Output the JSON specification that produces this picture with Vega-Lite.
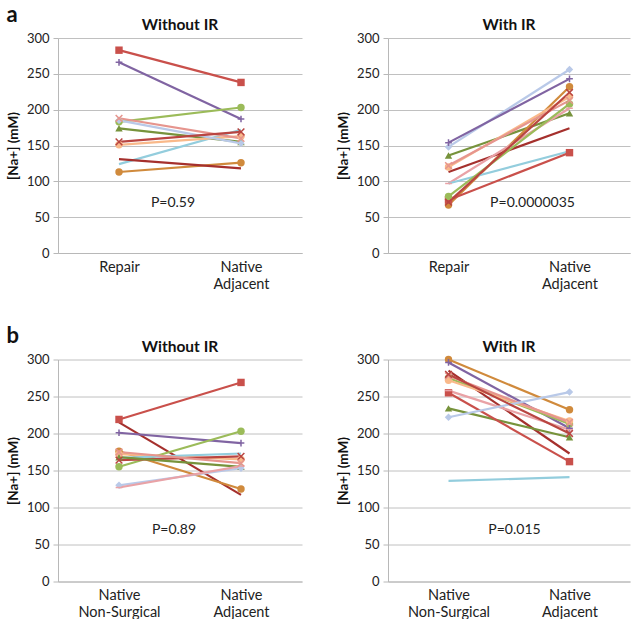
{
  "$schema": "https://vega.github.io/schema/vega-lite/v6.json",
  "padding": {"left": 6, "top": 3, "right": 4, "bottom": 0},
  "config": {
    "font": "Lato",
    "view": {"stroke": null},
    "title": {"fontSize": 15.5, "fontWeight": "bold", "color": "#111", "offset": -1.5},
    "axis": {"labelFont": "Lato", "titleFont": "Lato", "labelFontSize": 13, "labelColor": "#222", "titleColor": "#111", "gridColor": "#C0C0C0", "domainColor": "#B8B8B8", "tickColor": "#B8B8B8"},
    "axisX": {"labelFontSize": 14.5},
    "concat": {"spacing": 34}
  },
  "datasets": {
    "a1": [
      {"series": "S1", "cond": "Repair", "na": 283}, {"series": "S1", "cond": "Native Adjacent", "na": 238},
      {"series": "S2", "cond": "Repair", "na": 266}, {"series": "S2", "cond": "Native Adjacent", "na": 187},
      {"series": "S3", "cond": "Repair", "na": 183}, {"series": "S3", "cond": "Native Adjacent", "na": 203},
      {"series": "S4", "cond": "Repair", "na": 174}, {"series": "S4", "cond": "Native Adjacent", "na": 155},
      {"series": "S5", "cond": "Repair", "na": 124}, {"series": "S5", "cond": "Native Adjacent", "na": 172},
      {"series": "S6", "cond": "Repair", "na": 113}, {"series": "S6", "cond": "Native Adjacent", "na": 126},
      {"series": "S7", "cond": "Repair", "na": 151}, {"series": "S7", "cond": "Native Adjacent", "na": 163},
      {"series": "S8", "cond": "Repair", "na": 188}, {"series": "S8", "cond": "Native Adjacent", "na": 160},
      {"series": "S9", "cond": "Repair", "na": 131}, {"series": "S9", "cond": "Native Adjacent", "na": 118},
      {"series": "S10", "cond": "Repair", "na": 185}, {"series": "S10", "cond": "Native Adjacent", "na": 153},
      {"series": "S12", "cond": "Repair", "na": 155}, {"series": "S12", "cond": "Native Adjacent", "na": 169}
    ],
    "a2": [
      {"series": "S10", "cond": "Repair", "na": 148}, {"series": "S10", "cond": "Native Adjacent", "na": 256},
      {"series": "S2", "cond": "Repair", "na": 154}, {"series": "S2", "cond": "Native Adjacent", "na": 243},
      {"series": "S4", "cond": "Repair", "na": 136}, {"series": "S4", "cond": "Native Adjacent", "na": 195},
      {"series": "S6", "cond": "Repair", "na": 67}, {"series": "S6", "cond": "Native Adjacent", "na": 232},
      {"series": "S7", "cond": "Repair", "na": 120}, {"series": "S7", "cond": "Native Adjacent", "na": 218},
      {"series": "S8", "cond": "Repair", "na": 122}, {"series": "S8", "cond": "Native Adjacent", "na": 213},
      {"series": "S9", "cond": "Repair", "na": 113}, {"series": "S9", "cond": "Native Adjacent", "na": 174},
      {"series": "S11", "cond": "Repair", "na": 97}, {"series": "S11", "cond": "Native Adjacent", "na": 202},
      {"series": "S5", "cond": "Repair", "na": 97}, {"series": "S5", "cond": "Native Adjacent", "na": 142},
      {"series": "S1", "cond": "Repair", "na": 74}, {"series": "S1", "cond": "Native Adjacent", "na": 140},
      {"series": "S3", "cond": "Repair", "na": 79}, {"series": "S3", "cond": "Native Adjacent", "na": 208},
      {"series": "S12", "cond": "Repair", "na": 71}, {"series": "S12", "cond": "Native Adjacent", "na": 224}
    ],
    "b1": [
      {"series": "S1", "cond": "Native Non-Surgical", "na": 219}, {"series": "S1", "cond": "Native Adjacent", "na": 269},
      {"series": "S9", "cond": "Native Non-Surgical", "na": 215}, {"series": "S9", "cond": "Native Adjacent", "na": 117},
      {"series": "S2", "cond": "Native Non-Surgical", "na": 201}, {"series": "S2", "cond": "Native Adjacent", "na": 187},
      {"series": "S3", "cond": "Native Non-Surgical", "na": 155}, {"series": "S3", "cond": "Native Adjacent", "na": 203},
      {"series": "S6", "cond": "Native Non-Surgical", "na": 176}, {"series": "S6", "cond": "Native Adjacent", "na": 125},
      {"series": "S7", "cond": "Native Non-Surgical", "na": 172}, {"series": "S7", "cond": "Native Adjacent", "na": 165},
      {"series": "S5", "cond": "Native Non-Surgical", "na": 167}, {"series": "S5", "cond": "Native Adjacent", "na": 173},
      {"series": "S12", "cond": "Native Non-Surgical", "na": 164}, {"series": "S12", "cond": "Native Adjacent", "na": 169},
      {"series": "S4", "cond": "Native Non-Surgical", "na": 168}, {"series": "S4", "cond": "Native Adjacent", "na": 155},
      {"series": "S10", "cond": "Native Non-Surgical", "na": 130}, {"series": "S10", "cond": "Native Adjacent", "na": 153},
      {"series": "S11", "cond": "Native Non-Surgical", "na": 127}, {"series": "S11", "cond": "Native Adjacent", "na": 156},
      {"series": "S8", "cond": "Native Non-Surgical", "na": 175}, {"series": "S8", "cond": "Native Adjacent", "na": 160}
    ],
    "b2": [
      {"series": "S6", "cond": "Native Non-Surgical", "na": 300}, {"series": "S6", "cond": "Native Adjacent", "na": 232},
      {"series": "S2", "cond": "Native Non-Surgical", "na": 296}, {"series": "S2", "cond": "Native Adjacent", "na": 207},
      {"series": "S9", "cond": "Native Non-Surgical", "na": 285}, {"series": "S9", "cond": "Native Adjacent", "na": 173},
      {"series": "S4", "cond": "Native Non-Surgical", "na": 234}, {"series": "S4", "cond": "Native Adjacent", "na": 195},
      {"series": "S3", "cond": "Native Non-Surgical", "na": 275}, {"series": "S3", "cond": "Native Adjacent", "na": 213},
      {"series": "S7", "cond": "Native Non-Surgical", "na": 272}, {"series": "S7", "cond": "Native Adjacent", "na": 217},
      {"series": "S8", "cond": "Native Non-Surgical", "na": 278}, {"series": "S8", "cond": "Native Adjacent", "na": 215},
      {"series": "S1", "cond": "Native Non-Surgical", "na": 255}, {"series": "S1", "cond": "Native Adjacent", "na": 162},
      {"series": "S11", "cond": "Native Non-Surgical", "na": 258}, {"series": "S11", "cond": "Native Adjacent", "na": 205},
      {"series": "S10", "cond": "Native Non-Surgical", "na": 222}, {"series": "S10", "cond": "Native Adjacent", "na": 256},
      {"series": "S5", "cond": "Native Non-Surgical", "na": 136}, {"series": "S5", "cond": "Native Adjacent", "na": 141},
      {"series": "S12", "cond": "Native Non-Surgical", "na": 280}, {"series": "S12", "cond": "Native Adjacent", "na": 200}
    ]
  },
  "spacing": 33.5,
  "vconcat": [
    {
      "title": {"text": "a", "anchor": "start", "fontSize": 22, "fontWeight": "bold", "offset": -8.5, "color": "#111"},
      "hconcat": [
        {
          "width": 244, "height": 215,
          "title": "Without IR",
          "data": {"name": "a1"},
          "encoding": {
            "x": {"field": "cond", "type": "ordinal", "sort": ["Repair", "Native Adjacent"], "scale": {"type": "point", "padding": 0.5}, "axis": {"title": null, "labelAngle": 0, "ticks": false, "labelPadding": 7, "labelExpr": "split(datum.label, ' ')", "labelLineHeight": 17}},
            "y": {"field": "na", "type": "quantitative", "scale": {"domain": [0, 300]}, "axis": {"title": "[Na+] (mM)", "titleFontSize": 13.5, "titleFontWeight": "bold", "values": [0, 50, 100, 150, 200, 250, 300], "tickSize": 5, "labelPadding": 4, "titlePadding": 6}},
            "color": {"field": "series", "type": "nominal", "legend": null, "scale": {"domain": ["S1","S2","S3","S4","S5","S6","S7","S8","S9","S10","S11","S12"], "range": ["#C9504B","#8064A2","#9BBB59","#77933C","#93CDDD","#D08A3C","#F9B98A","#E6958E","#A5302D","#B9C9E8","#E9A2A6","#B94541"]}}
          },
          "layer": [
            {"mark": {"type": "line", "strokeWidth": 2.2}},
            {"transform": [{"filter": {"field": "series", "oneOf": ["S1","S3","S4","S6","S7","S10"]}}], "mark": {"type": "point", "filled": true, "size": 55, "opacity": 1}, "encoding": {"shape": {"field": "series", "type": "nominal", "legend": null, "scale": {"domain": ["S1","S2","S3","S4","S5","S6","S7","S8","S9","S10","S11","S12"], "range": ["square","M-1,0H1M0,-1V1","circle","triangle-up","circle","circle","circle","M-1,-1L1,1M-1,1L1,-1","circle","diamond","M-1,0H1","M-1,-1L1,1M-1,1L1,-1"]}}}},
            {"transform": [{"filter": {"field": "series", "oneOf": ["S2","S8","S11","S12"]}}], "mark": {"type": "point", "filled": false, "size": 45, "strokeWidth": 1.5, "opacity": 1}, "encoding": {"shape": {"field": "series", "type": "nominal", "legend": null}}},
            {"transform": [{"filter": "datum.series == 'S1' && datum.cond == 'Repair'"}], "mark": {"type": "text", "fontSize": 14, "dx": 54, "font": "Lato", "color": "#222"}, "encoding": {"x": {"datum": "Repair"}, "y": {"datum": 70}, "text": {"value": "P=0.59"}, "color": {"value": "#222"}}}
          ]
        },
        {
          "width": 242, "height": 215,
          "title": "With IR",
          "data": {"name": "a2"},
          "encoding": {
            "x": {"field": "cond", "type": "ordinal", "sort": ["Repair", "Native Adjacent"], "scale": {"type": "point", "padding": 0.5}, "axis": {"title": null, "labelAngle": 0, "ticks": false, "labelPadding": 7, "labelExpr": "split(datum.label, ' ')", "labelLineHeight": 17}},
            "y": {"field": "na", "type": "quantitative", "scale": {"domain": [0, 300]}, "axis": {"title": "[Na+] (mM)", "titleFontSize": 13.5, "titleFontWeight": "bold", "values": [0, 50, 100, 150, 200, 250, 300], "tickSize": 5, "labelPadding": 4, "titlePadding": 6}},
            "color": {"field": "series", "type": "nominal", "legend": null, "scale": {"domain": ["S1","S2","S3","S4","S5","S6","S7","S8","S9","S10","S11","S12"], "range": ["#C9504B","#8064A2","#9BBB59","#77933C","#93CDDD","#D08A3C","#F9B98A","#E6958E","#A5302D","#B9C9E8","#E9A2A6","#B94541"]}}
          },
          "layer": [
            {"mark": {"type": "line", "strokeWidth": 2.2}},
            {"transform": [{"filter": {"field": "series", "oneOf": ["S1","S3","S4","S6","S7","S10"]}}], "mark": {"type": "point", "filled": true, "size": 55, "opacity": 1}, "encoding": {"shape": {"field": "series", "type": "nominal", "legend": null, "scale": {"domain": ["S1","S2","S3","S4","S5","S6","S7","S8","S9","S10","S11","S12"], "range": ["square","M-1,0H1M0,-1V1","circle","triangle-up","circle","circle","circle","M-1,-1L1,1M-1,1L1,-1","circle","diamond","M-1,0H1","M-1,-1L1,1M-1,1L1,-1"]}}}},
            {"transform": [{"filter": {"field": "series", "oneOf": ["S2","S8","S11","S12"]}}], "mark": {"type": "point", "filled": false, "size": 45, "strokeWidth": 1.5, "opacity": 1}, "encoding": {"shape": {"field": "series", "type": "nominal", "legend": null}}},
            {"transform": [{"filter": "datum.series == 'S1' && datum.cond == 'Repair'"}], "mark": {"type": "text", "fontSize": 14, "dx": 84, "font": "Lato", "color": "#222"}, "encoding": {"x": {"datum": "Repair"}, "y": {"datum": 70}, "text": {"value": "P=0.0000035"}, "color": {"value": "#222"}}}
          ]
        }
      ]
    },
    {
      "title": {"text": "b", "anchor": "start", "fontSize": 22, "fontWeight": "bold", "offset": -8.5, "color": "#111"},
      "hconcat": [
        {
          "width": 244, "height": 222,
          "title": "Without IR",
          "data": {"name": "b1"},
          "encoding": {
            "x": {"field": "cond", "type": "ordinal", "sort": ["Native Non-Surgical", "Native Adjacent"], "scale": {"type": "point", "padding": 0.5}, "axis": {"title": null, "labelAngle": 0, "ticks": false, "labelPadding": 7, "labelExpr": "split(datum.label, ' ')", "labelLineHeight": 17}},
            "y": {"field": "na", "type": "quantitative", "scale": {"domain": [0, 300]}, "axis": {"title": "[Na+] (mM)", "titleFontSize": 13.5, "titleFontWeight": "bold", "values": [0, 50, 100, 150, 200, 250, 300], "tickSize": 5, "labelPadding": 4, "titlePadding": 6}},
            "color": {"field": "series", "type": "nominal", "legend": null, "scale": {"domain": ["S1","S2","S3","S4","S5","S6","S7","S8","S9","S10","S11","S12"], "range": ["#C9504B","#8064A2","#9BBB59","#77933C","#93CDDD","#D08A3C","#F9B98A","#E6958E","#A5302D","#B9C9E8","#E9A2A6","#B94541"]}}
          },
          "layer": [
            {"mark": {"type": "line", "strokeWidth": 2.2}},
            {"transform": [{"filter": {"field": "series", "oneOf": ["S1","S3","S4","S6","S7","S10"]}}], "mark": {"type": "point", "filled": true, "size": 55, "opacity": 1}, "encoding": {"shape": {"field": "series", "type": "nominal", "legend": null, "scale": {"domain": ["S1","S2","S3","S4","S5","S6","S7","S8","S9","S10","S11","S12"], "range": ["square","M-1,0H1M0,-1V1","circle","triangle-up","circle","circle","circle","M-1,-1L1,1M-1,1L1,-1","circle","diamond","M-1,0H1","M-1,-1L1,1M-1,1L1,-1"]}}}},
            {"transform": [{"filter": {"field": "series", "oneOf": ["S2","S8","S11","S12"]}}], "mark": {"type": "point", "filled": false, "size": 45, "strokeWidth": 1.5, "opacity": 1}, "encoding": {"shape": {"field": "series", "type": "nominal", "legend": null}}},
            {"transform": [{"filter": "datum.series == 'S1' && datum.cond == 'Native Adjacent'"}], "mark": {"type": "text", "fontSize": 14, "dx": 55, "font": "Lato", "color": "#222"}, "encoding": {"x": {"datum": "Native Non-Surgical"}, "y": {"datum": 70}, "text": {"value": "P=0.89"}, "color": {"value": "#222"}}}
          ]
        },
        {
          "width": 242, "height": 222,
          "title": "With IR",
          "data": {"name": "b2"},
          "encoding": {
            "x": {"field": "cond", "type": "ordinal", "sort": ["Native Non-Surgical", "Native Adjacent"], "scale": {"type": "point", "padding": 0.5}, "axis": {"title": null, "labelAngle": 0, "ticks": false, "labelPadding": 7, "labelExpr": "split(datum.label, ' ')", "labelLineHeight": 17}},
            "y": {"field": "na", "type": "quantitative", "scale": {"domain": [0, 300]}, "axis": {"title": "[Na+] (mM)", "titleFontSize": 13.5, "titleFontWeight": "bold", "values": [0, 50, 100, 150, 200, 250, 300], "tickSize": 5, "labelPadding": 4, "titlePadding": 6}},
            "color": {"field": "series", "type": "nominal", "legend": null, "scale": {"domain": ["S1","S2","S3","S4","S5","S6","S7","S8","S9","S10","S11","S12"], "range": ["#C9504B","#8064A2","#9BBB59","#77933C","#93CDDD","#D08A3C","#F9B98A","#E6958E","#A5302D","#B9C9E8","#E9A2A6","#B94541"]}}
          },
          "layer": [
            {"mark": {"type": "line", "strokeWidth": 2.2}},
            {"transform": [{"filter": {"field": "series", "oneOf": ["S1","S3","S4","S6","S7","S10"]}}], "mark": {"type": "point", "filled": true, "size": 55, "opacity": 1}, "encoding": {"shape": {"field": "series", "type": "nominal", "legend": null, "scale": {"domain": ["S1","S2","S3","S4","S5","S6","S7","S8","S9","S10","S11","S12"], "range": ["square","M-1,0H1M0,-1V1","circle","triangle-up","circle","circle","circle","M-1,-1L1,1M-1,1L1,-1","circle","diamond","M-1,0H1","M-1,-1L1,1M-1,1L1,-1"]}}}},
            {"transform": [{"filter": {"field": "series", "oneOf": ["S2","S8","S11","S12"]}}], "mark": {"type": "point", "filled": false, "size": 45, "strokeWidth": 1.5, "opacity": 1}, "encoding": {"shape": {"field": "series", "type": "nominal", "legend": null}}},
            {"transform": [{"filter": "datum.series == 'S1' && datum.cond == 'Native Adjacent'"}], "mark": {"type": "text", "fontSize": 14, "dx": 66, "font": "Lato", "color": "#222"}, "encoding": {"x": {"datum": "Native Non-Surgical"}, "y": {"datum": 70}, "text": {"value": "P=0.015"}, "color": {"value": "#222"}}}
          ]
        }
      ]
    }
  ]
}
